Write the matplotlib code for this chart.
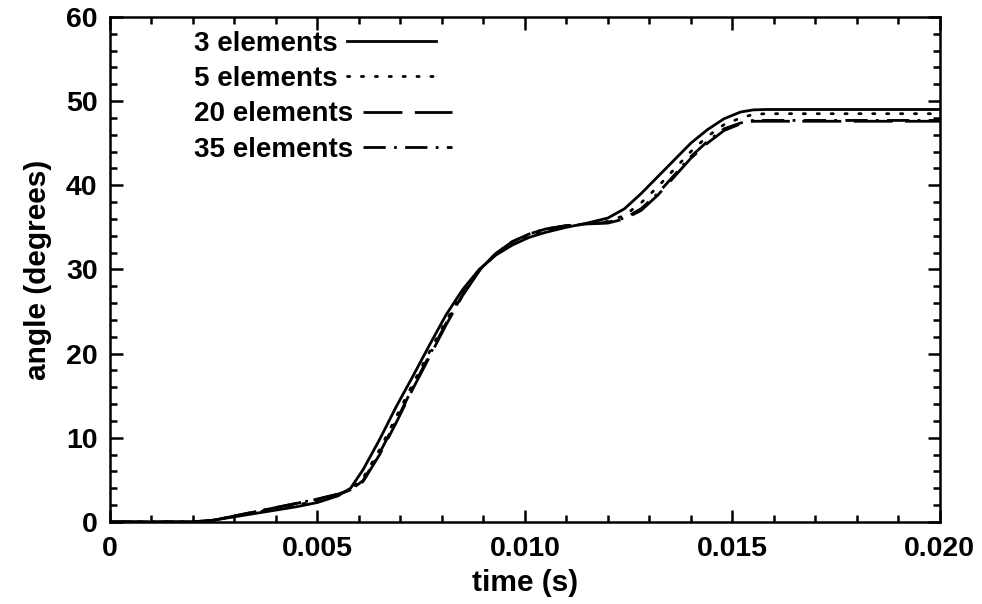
import numpy as np
import matplotlib
matplotlib.use("Agg")
import matplotlib.pyplot as plt
from matplotlib.ticker import MultipleLocator, FixedFormatter, FixedLocator

plt.rcParams['font.family'] = ['Liberation Sans', 'DejaVu Sans']
plt.rcParams['font.weight'] = 'bold'

# time samples (s)
t = [0, 0.0020, 0.0025, 0.0030, 0.0035, 0.0040, 0.0045, 0.0050, 0.0055,
     0.0058, 0.0061, 0.0065, 0.0069, 0.0073, 0.0077, 0.0081, 0.0085, 0.0089,
     0.0093, 0.0097, 0.0101, 0.0105, 0.0110, 0.0115, 0.0120, 0.0124, 0.0128,
     0.0132, 0.0136, 0.0140, 0.0144, 0.0148, 0.0152, 0.0155, 0.0158, 0.0200]

# angle (degrees) for each mesh
el3 = [0, 0, 0.2, 0.6, 1.0, 1.4, 1.8, 2.3, 3.1, 4.0, 6.2, 9.8, 13.7, 17.3,
       21.0, 24.6, 27.6, 30.0, 31.7, 32.9, 33.8, 34.4, 35.0, 35.5, 36.1, 37.2,
       39.0, 41.0, 43.0, 45.0, 46.6, 47.9, 48.7, 48.95, 49.0, 49.0]
el5 = [0, 0, 0.2, 0.7, 1.1, 1.6, 2.0, 2.5, 3.2, 3.9, 5.2, 8.6, 12.5, 16.4,
       20.2, 23.9, 27.2, 29.9, 31.8, 33.1, 34.0, 34.6, 35.1, 35.4, 35.7, 36.4,
       37.9, 39.8, 41.9, 44.0, 45.8, 47.2, 48.0, 48.4, 48.5, 48.5]
el20 = [0, 0, 0.2, 0.7, 1.2, 1.7, 2.2, 2.7, 3.3, 3.8, 4.8, 8.0, 11.8, 15.8,
        19.6, 23.4, 26.9, 29.8, 31.9, 33.3, 34.2, 34.8, 35.2, 35.4, 35.5, 36.0,
        37.0, 38.8, 41.0, 43.2, 45.0, 46.5, 47.3, 47.6, 47.6, 47.6]
el35 = [0, 0, 0.2, 0.7, 1.2, 1.7, 2.2, 2.7, 3.3, 3.8, 4.9, 8.2, 12.0, 16.0,
        19.8, 23.6, 27.0, 29.9, 31.9, 33.3, 34.2, 34.8, 35.2, 35.4, 35.6, 36.1,
        37.2, 39.0, 41.2, 43.4, 45.2, 46.7, 47.4, 47.7, 47.7, 47.7]

labels = ['3 elements', '5 elements', '20 elements', '35 elements']
xticks = [0, 0.005, 0.010, 0.015, 0.020]
xticklabels = ['0', '0.005', '0.010', '0.015', '0.020']

fig = plt.figure(figsize=(9.82, 6.04), dpi=100)
ax = fig.add_axes([0.112, 0.136, 0.845, 0.836])

lw = 2.0
ax.plot(t, el3, color='black', lw=lw, ls='-', label=labels[0])
ax.plot(t, el5, color='black', lw=lw, ls=(0, (0.8, 4.2)), label=labels[1],
        dash_capstyle='round')
ax.plot(t, el20, color='black', lw=lw, ls=(0, (14, 4.5)), label=labels[2])
ax.plot(t, el35, color='black', lw=lw, ls=(0, (8, 3, 1, 3)), label=labels[3])

ax.set_xlim(0, 0.020)
ax.set_ylim(0, 60)
ax.xaxis.set_major_locator(FixedLocator(xticks))
ax.xaxis.set_major_formatter(FixedFormatter(xticklabels))
ax.xaxis.set_minor_locator(MultipleLocator(0.001))
ax.yaxis.set_major_locator(MultipleLocator(10))
ax.yaxis.set_minor_locator(MultipleLocator(2))

ax.tick_params(which='both', direction='in', top=True, right=True,
               width=1.8, labelsize=20.5)
ax.tick_params(which='major', length=9)
ax.tick_params(axis='x', which='major', pad=10)
ax.tick_params(axis='y', which='major', pad=9)
ax.tick_params(which='minor', length=5)
for s in ax.spines.values():
    s.set_linewidth(1.8)

ax.set_xlabel('time (s)', fontsize=21.5, fontweight='bold', labelpad=5)
ax.set_ylabel('angle (degrees)', fontsize=21.5, fontweight='bold', labelpad=10)

leg = ax.legend(loc='upper left', bbox_to_anchor=(0.088, 0.995), frameon=False,
                markerfirst=False, fontsize=20, handlelength=3.2,
                handletextpad=0.35, labelspacing=0.34, borderaxespad=0)
# left-align the label column, handles follow each label
for col in leg._legend_handle_box.get_children():
    col.align = 'left'

fig.savefig('out.png', dpi=100)
